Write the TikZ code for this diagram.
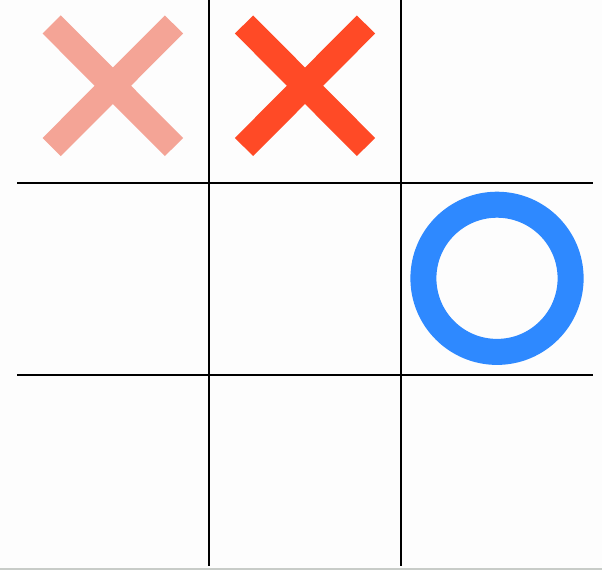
\documentclass[tikz,border=0pt]{standalone}
\begin{document}
\begin{tikzpicture}[x=1pt,y=-1pt,
  gridline/.style={draw=black,line width=2pt},
  xmark/.style={line width=25.7pt,line cap=butt},
  omark/.style={draw=obluecol,line width=26pt}]
\definecolor{xlight}{HTML}{F4A496}
\definecolor{xred}{HTML}{FF4A26}
\definecolor{obluecol}{HTML}{2E89FF}
\definecolor{bgcol}{HTML}{FDFDFD}
\definecolor{bottomgray}{HTML}{C8CCC8}
\fill[bgcol] (0,0) rectangle (602,570);
\useasboundingbox (0,0) rectangle (602,570);
\fill[bottomgray] (0,567.5) rectangle (602,570);
% grid
\coordinate (v1t) at (209,0);   \coordinate (v1b) at (209,566);
\coordinate (v2t) at (401,0);   \coordinate (v2b) at (401,566);
\coordinate (h1l) at (17,183);  \coordinate (h1r) at (593,183);
\coordinate (h2l) at (17,375);  \coordinate (h2r) at (593,375);
\draw[gridline] (v1t) -- (v1b);
\draw[gridline] (v2t) -- (v2b);
\draw[gridline] (h1l) -- (h1r);
\draw[gridline] (h2l) -- (h2r);
% X marks
\draw[xmark,draw=xlight] (51.7,24.5) -- (174,147);
\draw[xmark,draw=xlight] (174,24.5) -- (51.7,147);
\draw[xmark,draw=xred] (244,24.5) -- (366,147);
\draw[xmark,draw=xred] (366,24.5) -- (244,147);
% O mark
\draw[omark] (497,278.3) circle (73.6);
\end{tikzpicture}
\end{document}
